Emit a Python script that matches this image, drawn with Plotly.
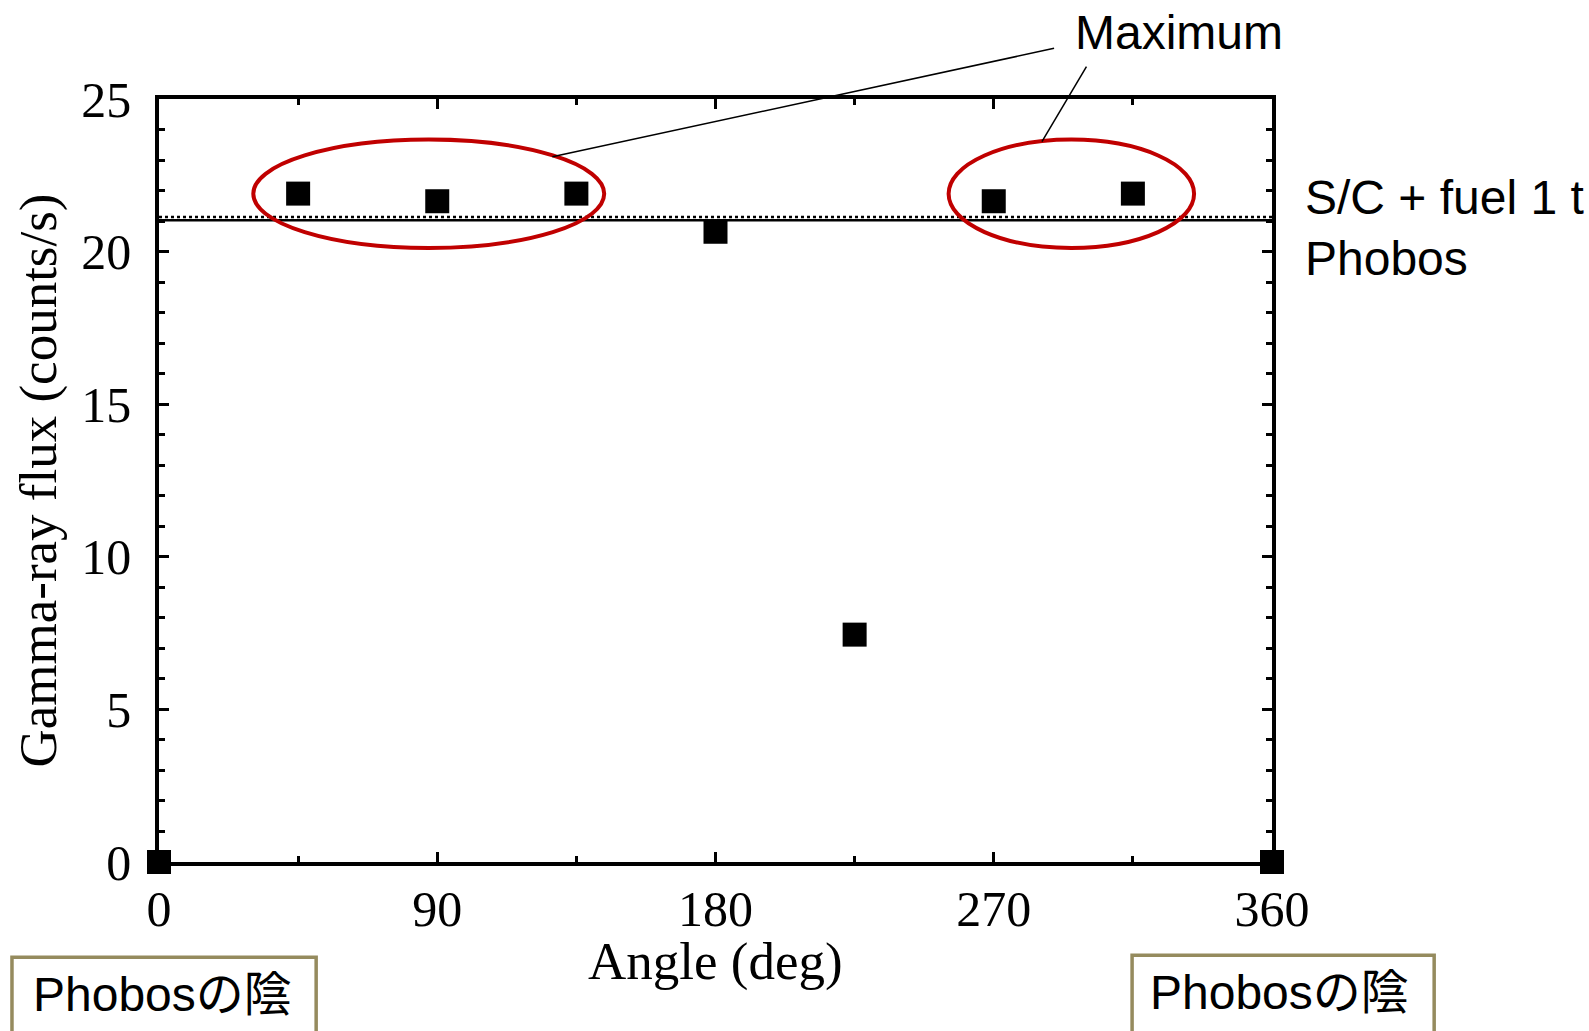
import plotly.graph_objects as go

# ---- data ----
angle_deg = [0, 45, 90, 135, 180, 225, 270, 315, 360]
flux_cps = [0, 21.9, 21.65, 21.9, 20.65, 7.45, 21.65, 21.9, 0]
sc_fuel_level = 21.13
phobos_level = 21.03
x_ticks = [0, 90, 180, 270, 360]
y_ticks = [0, 5, 10, 15, 20, 25]
right_labels = ["S/C + fuel 1 t", "Phobos"]
box_label = "Phobosの陰"
max_label = "Maximum"
x_title = "Angle (deg)"
y_title = "Gamma-ray flux (counts/s)"
# ellipses (data coords): x0, x1, y0, y1
ellipse_left = [30.5, 144, 20.12, 23.67]
ellipse_right = [255.4, 334.8, 20.12, 23.67]

serif = "Liberation Serif, Times New Roman, serif"
sans = "Liberation Sans, Arial, Noto Sans CJK JP, sans-serif"
red = "#C00000"
olive = "#958B5E"

fig = go.Figure()
fig.add_trace(go.Scatter(
    x=[0, 360], y=[sc_fuel_level] * 2, mode="lines",
    line=dict(color="black", width=2.5, dash="dot"), showlegend=False, hoverinfo="skip"))
fig.add_trace(go.Scatter(
    x=[0, 360], y=[phobos_level] * 2, mode="lines",
    line=dict(color="black", width=2.5), showlegend=False, hoverinfo="skip"))
fig.add_trace(go.Scatter(
    x=angle_deg, y=flux_cps, mode="markers",
    marker=dict(symbol="square", size=24, color="black", line=dict(width=0)),
    cliponaxis=False, showlegend=False))

for e in (ellipse_left, ellipse_right):
    fig.add_shape(type="circle", xref="x", yref="y", x0=e[0], x1=e[1], y0=e[2], y1=e[3],
                  line=dict(color=red, width=4), layer="above")

# leader lines to "Maximum"
fig.add_shape(type="line", xref="paper", yref="paper", x0=0.8042, y0=1.0664, x1=0.3534, y1=0.9243,
              line=dict(color="black", width=1.5))
fig.add_shape(type="line", xref="paper", yref="paper", x0=0.8333, y0=1.0425, x1=0.7933, y1=0.9442,
              line=dict(color="black", width=1.5))
fig.add_annotation(text=max_label, xref="paper", yref="paper", x=0.916, y=1.0876,
                   xanchor="center", yanchor="middle",
                   showarrow=False, font=dict(family=sans, size=48, color="black"))

# right-hand line labels
for lab, yp in zip(right_labels, [0.871, 0.7915]):
    fig.add_annotation(text=lab, xref="paper", yref="paper", x=1.028, y=yp,
                       xanchor="left", yanchor="middle",
                       showarrow=False, font=dict(family=sans, size=48, color="black"))

# bottom boxes
for bx0, bx1, by0, tx, ty in [(-0.1321, 0.1412, -0.1248, 0.003, -0.174),
                              (0.8743, 1.1457, -0.1222, 1.007, -0.171)]:
    fig.add_shape(type="rect", xref="paper", yref="paper", x0=bx0, x1=bx1, y0=-0.3, y1=by0,
                  line=dict(color=olive, width=3.5), fillcolor="rgba(0,0,0,0)", layer="below")
    fig.add_annotation(text=box_label, xref="paper", yref="paper", x=tx, y=ty,
                       xanchor="center", yanchor="middle",
                       showarrow=False, font=dict(family=sans, size=48, color="black"))

# x-axis title
fig.add_annotation(text=x_title, xref="paper", yref="paper", x=0.5, y=-0.1305,
                   xanchor="center", yanchor="middle", borderpad=0,
                   showarrow=False, font=dict(family=serif, size=53, color="black"))

axis_common = dict(
    showline=True, linecolor="black", linewidth=3.5, mirror="ticks",
    ticks="inside", ticklen=10, tickwidth=3, tickcolor="black",
    showgrid=False, zeroline=False,
    tickfont=dict(family=serif, size=50, color="black"),
)
fig.update_xaxes(
    range=[0, 360], tickvals=x_ticks, ticktext=[str(v) for v in x_ticks],
    minor=dict(dtick=45, tick0=0, ticks="inside", ticklen=6, tickwidth=2.5, tickcolor="black"),
    ticklabelstandoff=0,
    **axis_common)
fig.update_yaxes(
    range=[0, 25], tickvals=y_ticks, ticktext=[str(v) for v in y_ticks],
    minor=dict(dtick=1, tick0=0, ticks="inside", ticklen=6, tickwidth=2.5, tickcolor="black"),
    ticklabelstandoff=14,
    title=dict(text=y_title, font=dict(family=serif, size=53, color="black"), standoff=9),
    **axis_common)

fig.update_layout(
    width=1589, height=1031,
    margin=dict(l=159, r=317, t=99, b=169),
    paper_bgcolor="white", plot_bgcolor="white",
)
fig.write_html("out.html")
